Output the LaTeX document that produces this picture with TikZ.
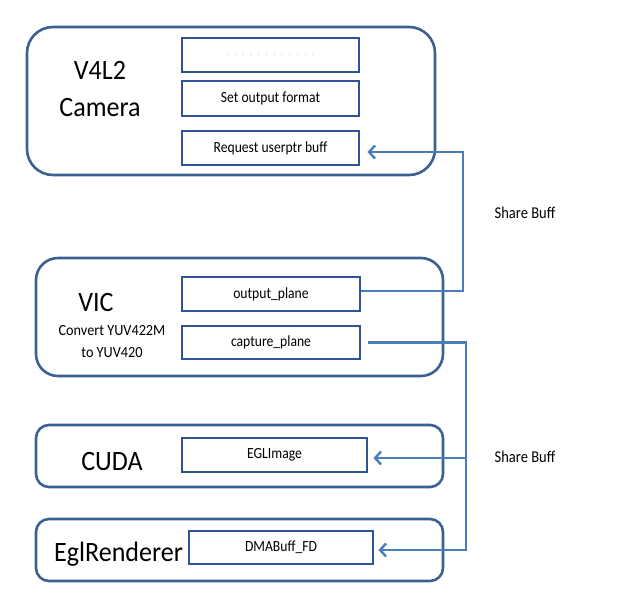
\documentclass[tikz,border=0pt]{standalone}
\usepackage{fontspec}
\setmainfont{Carlito}
\usetikzlibrary{arrows.meta}
\definecolor{outerc}{HTML}{3B6092}
\definecolor{innerc}{HTML}{2F5496}
\definecolor{linkc}{HTML}{4A7EBB}
\newcommand{\nar}[2]{\scalebox{#1}[1]{#2}}
\tikzset{
  outerbox/.style={draw=outerc, line width=2.6pt, inner sep=0pt},
  innerbox/.style={draw=innerc, line width=2.8pt, inner sep=0pt, font=\fontsize{15.5}{17}\selectfont},
  bigtxt/.style={font=\fontsize{28}{32}\selectfont, inner sep=0pt},
  midtxt/.style={font=\fontsize{15.5}{17}\selectfont, inner sep=0pt},
  conn/.style={draw=linkc, line width=2.4pt, -{Straight Barb[length=6pt,width=13pt,line width=2.4pt]}},
  plain/.style={draw=linkc, line width=2.4pt},
  lbl/.style={font=\fontsize{16.5}{18}\selectfont, inner sep=0pt}
}
\begin{document}
\begin{tikzpicture}[x=1pt,y=-1pt]
\useasboundingbox (0,0) rectangle (624,598);
% outer boxes
\node[outerbox, rounded corners=26pt, minimum width=408pt, minimum height=148pt] (cam) at (231,101) {};
\node[outerbox, rounded corners=22pt, minimum width=407pt, minimum height=118pt] (vic) at (239.5,317) {};
\node[outerbox, rounded corners=13pt, minimum width=407pt, minimum height=62pt] (cuda) at (239.5,456) {};
\node[outerbox, rounded corners=13pt, minimum width=407pt, minimum height=62pt] (egl) at (239.5,550) {};
% titles
\node[bigtxt] (t1) at (100,70) {\nar{0.93}{V4L2}};
\node[bigtxt] (t2) at (100,108) {\nar{0.93}{Camera}};
\node[bigtxt] (t3) at (96,303) {\nar{0.93}{VIC}};
\node[midtxt] (t4) at (112,331) {\nar{0.92}{Convert YUV422M}};
\node[midtxt] (t5) at (112,353) {\nar{0.92}{to YUV420}};
\node[bigtxt] (t6) at (112,462) {\nar{0.93}{CUDA}};
\node[bigtxt, anchor=west] (t7) at (54,554) {\nar{0.93}{EglRenderer}};
% inner boxes
\node[innerbox, minimum width=177pt, minimum height=34pt] (dots) at (270.5,55) {\textcolor{gray}{\fontsize{7}{8}\selectfont .\hspace{6pt}.\hspace{6pt}.\hspace{6pt}.\hspace{6pt}.\hspace{6pt}.\hspace{6pt}.\hspace{6pt}.\hspace{6pt}.\hspace{6pt}.\hspace{6pt}.\hspace{6pt}.}};
\node[innerbox, minimum width=177pt, minimum height=35pt] (fmt) at (270.5,98.5) {\nar{0.88}{Set output format}};
\node[innerbox, minimum width=177pt, minimum height=34pt] (req) at (270.5,148) {\nar{0.88}{Request userptr buff}};
\node[innerbox, minimum width=178pt, minimum height=34pt] (out) at (271,294) {\nar{0.88}{output\_plane}};
\node[innerbox, minimum width=178pt, minimum height=33pt] (cap) at (271,342.5) {\nar{0.88}{capture\_plane}};
\node[innerbox, minimum width=185pt, minimum height=34pt] (eglimg) at (274.5,455) {\nar{0.88}{EGLImage}};
\node[innerbox, minimum width=184pt, minimum height=33pt] (dma) at (281,547.5) {\nar{0.88}{DMABuff\_FD}};
% junctions
\coordinate (j1) at (463,152);
\coordinate (j2) at (466,550);
\coordinate (j3) at (466,458);
% connectors
\draw[conn, shorten >=7pt] ([yshift=3pt]out.east) -| (j1) -- (req.east |- j1);
\draw[plain, shorten <=7pt] (cap.east) -| (j3);
\draw[conn, shorten >=4pt] (j3) -| (j2) -- (dma.east |- j2);
\draw[conn, shorten >=5pt] (j3) -- (eglimg.east |- j3);
% labels
\node[lbl] (s1) at (525,213) {\nar{0.88}{Share Buff}};
\node[lbl] (s2) at (525,457) {\nar{0.88}{Share Buff}};
\end{tikzpicture}
\end{document}
